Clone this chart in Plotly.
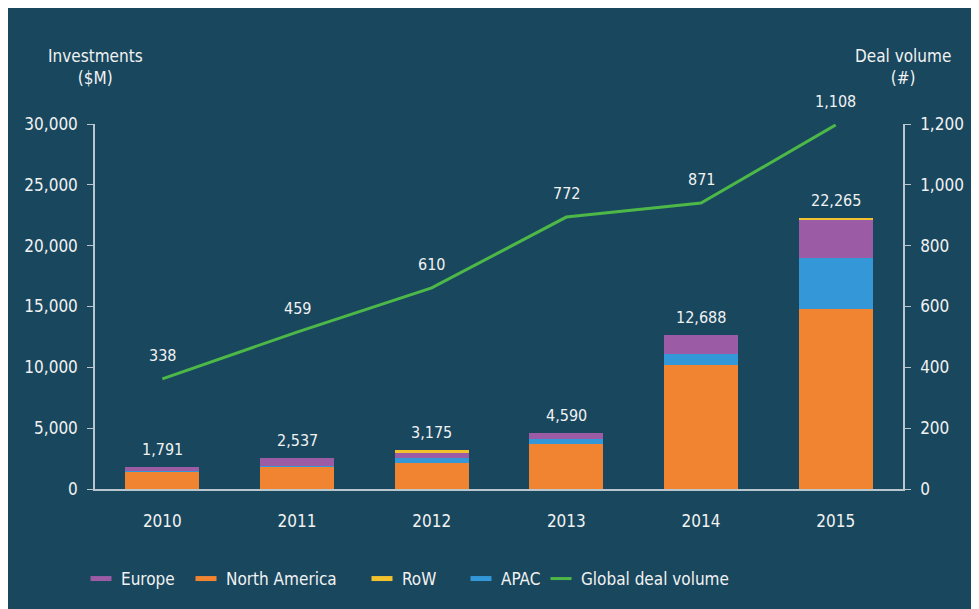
import plotly.graph_objects as go

years = ["2010", "2011", "2012", "2013", "2014", "2015"]
north_america = [1470, 1870, 2130, 3700, 10190, 14790]
apac = [20, 60, 440, 400, 900, 4190]
europe = [301, 607, 380, 490, 1598, 3200]
row = [0, 0, 225, 0, 0, 85]
totals = [1791, 2537, 3175, 4590, 12688, 22265]
total_labels = ["1,791", "2,537", "3,175", "4,590", "12,688", "22,265"]
deal_volume_plotted = [362, 516, 661, 894, 940, 1197]
deal_volume_labels = ["338", "459", "610", "772", "871", "1,108"]
legend_names = ["Europe", "North America", "RoW", "APAC", "Global deal volume"]

BG = "#18475E"
TXT = "#F2F2F2"
AX = "#B9C6CE"
C_NA = "#F08431"
C_APAC = "#3498D8"
C_EU = "#9B5BA5"
C_ROW = "#F2C12E"
C_LINE = "#4DB848"
FONT = "DejaVu Sans Condensed, Liberation Sans Narrow, sans-serif"

fig = go.Figure()
for name, vals, col in [("North America", north_america, C_NA),
                        ("APAC", apac, C_APAC),
                        ("Europe", europe, C_EU),
                        ("RoW", row, C_ROW)]:
    fig.add_trace(go.Bar(x=years, y=vals, name=name, marker=dict(color=col, line=dict(width=0)),
                         width=0.55, showlegend=False, yaxis="y"))

fig.add_trace(go.Scatter(x=years, y=deal_volume_plotted, mode="lines", name="Global deal volume",
                         line=dict(color=C_LINE, width=3), yaxis="y2", showlegend=False))

# legend entries (dash symbols), each in its own legend box for exact placement
legend_cols = [C_EU, C_NA, C_ROW, C_APAC, C_LINE]
legend_px = [81, 186, 362, 461, 541]
legend_layout = {}
for i, (name, col, px) in enumerate(zip(legend_names, legend_cols, legend_px)):
    key = "legend" if i == 0 else f"legend{i + 1}"
    fig.add_trace(go.Scatter(x=years[:1], y=[None], mode="markers", name=name, legend=key,
                             marker=dict(symbol="line-ew", size=15,
                                         line=dict(color=col, width=5 if name != "Global deal volume" else 3)),
                             showlegend=True, hoverinfo="skip"))
    legend_layout[key] = dict(orientation="h", x=(px - 95) / 808, xanchor="left",
                              y=(489 - 579) / 365, yanchor="middle",
                              font=dict(size=17, color=TXT, family=FONT), bgcolor="rgba(0,0,0,0)")

annotations = []
for i, (t, lab) in enumerate(zip(totals, total_labels)):
    annotations.append(dict(x=i, y=t, xref="x", yref="y", text=lab, showarrow=False,
                            yanchor="bottom", yshift=6, font=dict(size=16, color=TXT, family=FONT)))
for i, (v, lab) in enumerate(zip(deal_volume_plotted, deal_volume_labels)):
    annotations.append(dict(x=i, y=v, xref="x", yref="y2", text=lab, showarrow=False,
                            yanchor="bottom", yshift=12, font=dict(size=16, color=TXT, family=FONT)))
annotations.append(dict(x=0, y=(489 - 67) / 365, xref="paper", yref="paper", text="Investments<br>($M)",
                        showarrow=False, xanchor="center", yanchor="middle", align="center",
                        font=dict(size=17, color=TXT, family=FONT)))
annotations.append(dict(x=1, y=(489 - 67) / 365, xref="paper", yref="paper", text="Deal volume<br>(#)",
                        showarrow=False, xanchor="center", yanchor="middle", align="center",
                        font=dict(size=17, color=TXT, family=FONT)))

fig.update_layout(
    width=979, height=609,
    margin=dict(l=87, r=84, t=116, b=128, pad=0),
    paper_bgcolor=BG,
    plot_bgcolor=BG,
    barmode="stack",
    font=dict(family=FONT, size=17, color=TXT),
    annotations=annotations,
    xaxis=dict(type="category", categoryorder="array", categoryarray=years, range=[-0.5, 5.5],
               showgrid=False, showline=True, linecolor=AX, linewidth=1.5,
               ticks="", tickfont=dict(size=17, color=TXT), ticklabelstandoff=16, zeroline=False),
    yaxis=dict(range=[0, 30000], tickvals=[0, 5000, 10000, 15000, 20000, 25000, 30000],
               tickformat=",", showgrid=False, showline=True, linecolor=AX, linewidth=1.5,
               ticks="outside", ticklen=6, tickcolor=AX, tickfont=dict(size=17, color=TXT),
               zeroline=False, ticklabelstandoff=6),
    yaxis2=dict(range=[0, 1200], tickvals=[0, 200, 400, 600, 800, 1000, 1200], tickformat=",",
                overlaying="y", side="right", showgrid=False, showline=True, linecolor=AX, linewidth=1.5,
                ticks="outside", ticklen=6, tickcolor=AX, tickfont=dict(size=17, color=TXT),
                zeroline=False, ticklabelstandoff=6),
    showlegend=True,
    **legend_layout,
)

fig.write_html("out.html")
